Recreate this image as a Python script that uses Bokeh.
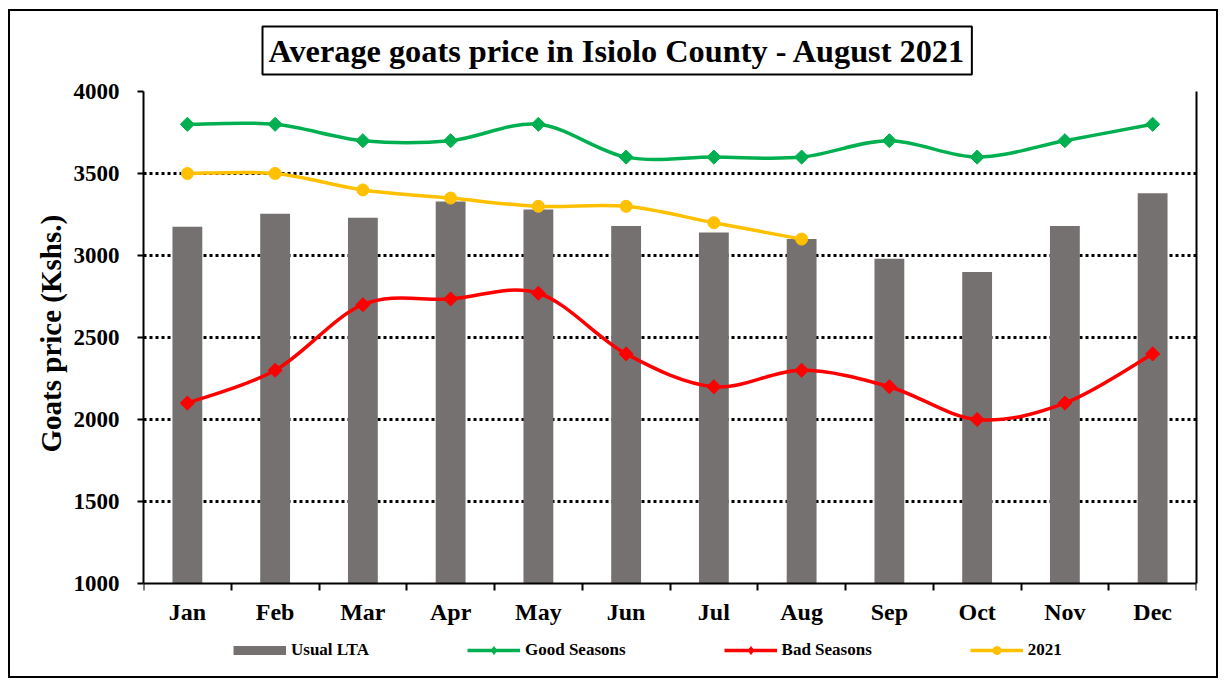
import numpy as np
from bokeh.plotting import figure
from bokeh.models import (Range1d, FixedTicker, LinearAxis, Legend, LegendItem, Title)
from bokeh.embed import file_html
from bokeh.resources import INLINE

# ---- data ----
months = ["Jan", "Feb", "Mar", "Apr", "May", "Jun", "Jul", "Aug", "Sep", "Oct", "Nov", "Dec"]
usual_lta = [3175, 3255, 3230, 3330, 3280, 3180, 3140, 3100, 2980, 2900, 3180, 3380]
good_seasons = [3800, 3800, 3700, 3700, 3800, 3600, 3600, 3600, 3700, 3600, 3700, 3800]
bad_seasons = [2100, 2300, 2700, 2735, 2770, 2400, 2200, 2300, 2200, 2000, 2100, 2400]
y2021 = [3500, 3500, 3400, 3350, 3300, 3300, 3200, 3100]
y_ticks = [1000, 1500, 2000, 2500, 3000, 3500, 4000]

FONT = "Liberation Serif"
GRAY = "#767171"
GREEN = "#00B050"
RED = "#FF0000"
YELLOW = "#FFC000"

# ---- layout (pixels) ----
W, H = 1210, 669            # canvas size inside the outer border
TOP, LEFT, RIGHT = 80, 133, 24
AXIS_PX = 492               # pixel height of the 1000..4000 value span
Y_MIN, Y_MAX = y_ticks[0], y_ticks[-1]
frame_h = H - TOP
y_start = Y_MAX - (Y_MAX - Y_MIN) * frame_h / AXIS_PX

xs = list(range(1, len(months) + 1))
NAN = [float("nan")]


def smooth_segments(x, y):
    """Excel-style smoothed line: cubic Bezier segments through the points."""
    x = np.asarray(x, float)
    y = np.asarray(y, float)
    n = len(x)
    px = np.concatenate([[x[0]], x, [x[-1]]])
    py = np.concatenate([[y[0]], y, [y[-1]]])
    seg = dict(x0=[], y0=[], x1=[], y1=[], cx0=[], cy0=[], cx1=[], cy1=[])
    for i in range(n - 1):
        p0x, p0y = px[i], py[i]
        p1x, p1y = px[i + 1], py[i + 1]
        p2x, p2y = px[i + 2], py[i + 2]
        p3x, p3y = px[i + 3], py[i + 3]
        seg["x0"].append(p1x); seg["y0"].append(p1y)
        seg["x1"].append(p2x); seg["y1"].append(p2y)
        seg["cx0"].append(p1x + (p2x - p0x) / 6); seg["cy0"].append(p1y + (p2y - p0y) / 6)
        seg["cx1"].append(p2x - (p3x - p1x) / 6); seg["cy1"].append(p2y - (p3y - p1y) / 6)
    return seg


p = figure(width=W, height=H, output_backend="svg", toolbar_location=None,
           x_range=Range1d(0.5, 12.5), y_range=Range1d(y_start, Y_MAX),
           min_border_left=LEFT, min_border_right=RIGHT, min_border_top=TOP, min_border_bottom=0,
           x_axis_location=None, y_axis_location=None)
p.styles = {"border": "2px solid black", "margin-left": "8px", "margin-top": "9px"}
p.outline_line_color = None
p.background_fill_color = "white"
p.border_fill_color = "white"

# title in a box
p.title.text = "Average goats price in Isiolo County - August 2021"
p.title.text_font = FONT
p.title.text_font_style = "bold"
p.title.text_font_size = "32.3px"
p.title.text_color = "black"
p.title.align = "left"
p.title.vertical_align = "top"
p.title.offset = 119
p.title.standoff = 30
p.title.border_line_color = "black"
p.title.border_line_width = 2
p.title.padding = 6

# axes
yaxis = LinearAxis(ticker=FixedTicker(ticks=y_ticks), bounds=(Y_MIN, Y_MAX))
yaxis.axis_line_color = "black"
yaxis.axis_line_width = 2
yaxis.major_tick_out = 6
yaxis.major_tick_in = 0
yaxis.major_tick_line_width = 2
yaxis.minor_tick_line_color = None
yaxis.major_label_text_font = FONT
yaxis.major_label_text_font_style = "bold"
yaxis.major_label_text_font_size = "23px"
yaxis.major_label_text_color = "black"
yaxis.major_label_standoff = 18
p.add_layout(yaxis, "left")

ytitle = Title(text="Goats price (Kshs.)", align="left", offset=228, standoff=8,
               text_font=FONT, text_font_style="bold", text_font_size="29px",
               text_color="black")
p.add_layout(ytitle, "left")

raxis = LinearAxis(ticker=FixedTicker(ticks=[]), bounds=(Y_MIN, Y_MAX))
raxis.axis_line_color = "black"
raxis.axis_line_width = 2
raxis.major_tick_line_color = None
raxis.minor_tick_line_color = None
raxis.major_label_text_font_size = "0px"
p.add_layout(raxis, "right")

xaxis = LinearAxis(ticker=FixedTicker(ticks=xs, minor_ticks=[v + 0.5 for v in range(0, 13)]),
                   fixed_location=Y_MIN)
xaxis.axis_line_color = "black"
xaxis.axis_line_width = 2
xaxis.major_tick_line_color = None
xaxis.major_tick_out = 0
xaxis.major_tick_in = 0
xaxis.minor_tick_out = 7
xaxis.minor_tick_in = 0
xaxis.minor_tick_line_width = 2
xaxis.minor_tick_line_color = "black"
xaxis.major_label_overrides = {float(v): m for v, m in zip(xs, months)}
xaxis.major_label_text_font = FONT
xaxis.major_label_text_font_style = "bold"
xaxis.major_label_text_font_size = "24px"
xaxis.major_label_text_color = "black"
xaxis.major_label_standoff = 8
p.add_layout(xaxis, "below")

p.xgrid.visible = False
p.ygrid.ticker = FixedTicker(ticks=y_ticks[1:])
p.ygrid.grid_line_color = "black"
p.ygrid.grid_line_width = 3
p.ygrid.grid_line_dash = "3 3"

# bars
bars = p.vbar(x=xs, top=usual_lta, bottom=Y_MIN, width=0.34, fill_color=GRAY, line_color=None)
bar_leg = p.line(x=NAN, y=NAN, line_color=GRAY, line_width=9)

# lines
renderers = {}
for name, vals, col, marker, size, ang, lmarker in [
        ("Good Seasons", good_seasons, GREEN, "square", 10, np.pi / 4, "diamond"),
        ("Bad Seasons", bad_seasons, RED, "square", 10, np.pi / 4, "diamond"),
        ("2021", y2021, YELLOW, "circle", 12, 0, "circle")]:
    xx = xs[:len(vals)]
    b = p.bezier(line_color=col, line_width=3.5, **smooth_segments(xx, vals))
    s = p.scatter(x=xx, y=vals, marker=marker, size=size, angle=ang,
                  fill_color=col, line_color=col)
    lm = p.scatter(x=NAN, y=NAN, marker=lmarker, size=size, fill_color=col, line_color=col)
    renderers[name] = [b, lm]

legend = Legend(items=[
    LegendItem(label="Usual LTA", renderers=[bar_leg]),
    LegendItem(label="Good Seasons", renderers=renderers["Good Seasons"]),
    LegendItem(label="Bad Seasons", renderers=renderers["Bad Seasons"]),
    LegendItem(label="2021", renderers=renderers["2021"]),
], orientation="horizontal", location=(90, 20))
legend.glyph_width = 53
legend.glyph_height = 20
legend.label_standoff = 5
legend.spacing = 98
legend.padding = 0
legend.margin = 0
legend.border_line_color = None
legend.background_fill_alpha = 0
legend.label_text_font = FONT
legend.label_text_font_style = "bold"
legend.label_text_font_size = "17px"
legend.label_text_color = "black"
p.add_layout(legend, "center")

open("out.html", "w").write(file_html(p, INLINE))
